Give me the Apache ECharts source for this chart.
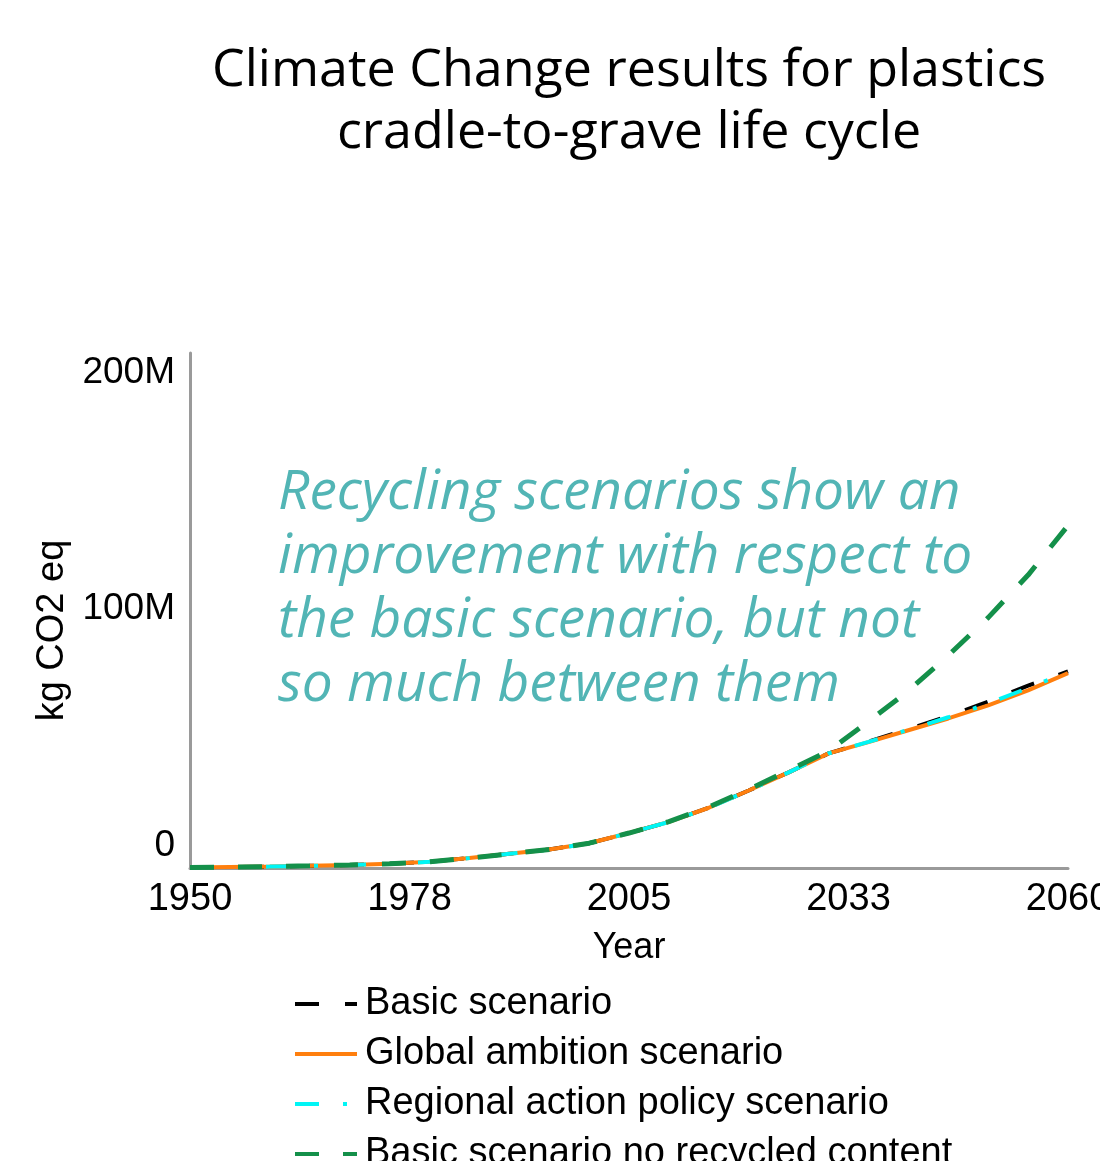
<!DOCTYPE html>
<html>
<head>
<meta charset="utf-8">
<script src="https://cdn.jsdelivr.net/npm/echarts@6/dist/echarts.min.js"></script>
<style>
  html, body { margin: 0; padding: 0; background: #fff; }
  #chart { width: 1100px; height: 1161px; }
</style>
</head>
<body>
<div id="chart"></div>
<script>
// years on the x axis (data every 5 years)
var years = [1950, 1955, 1960, 1965, 1970, 1975, 1980, 1985, 1990, 1995, 2000, 2005,
  2010, 2015, 2020, 2025, 2030, 2035, 2040, 2045, 2050, 2055, 2060];

// kg CO2 eq, in millions
var basic = [0.2, 0.4, 0.6, 0.9, 1.3, 1.8, 2.6, 4.2, 6.0, 7.8, 10.5, 14.8,
  19.5, 25.5, 32.8, 40.5, 48.5, 53.5, 58.8, 64.3, 70.4, 77.2, 83.2];
var globalAmbition = [0.2, 0.4, 0.6, 0.9, 1.3, 1.8, 2.6, 4.2, 6.0, 7.8, 10.5, 14.8,
  19.5, 25.5, 32.8, 40.5, 48.5, 53.3, 58.3, 63.3, 68.8, 75.2, 82.5];
var regionalAction = [0.2, 0.4, 0.6, 0.9, 1.3, 1.8, 2.6, 4.2, 6.0, 7.8, 10.5, 14.8,
  19.5, 25.5, 32.8, 40.5, 48.5, 53.4, 58.5, 63.8, 69.6, 76.2, 83.0];
var noRecycled = [0.2, 0.4, 0.6, 0.9, 1.3, 1.8, 2.6, 4.2, 6.0, 7.8, 10.5, 14.8,
  19.6, 25.8, 33.3, 41.3, 49.5, 62.0, 75.0, 90.0, 106.0, 124.0, 145.0];

var seriesNames = ['Basic scenario', 'Global ambition scenario',
  'Regional action policy scenario', 'Basic scenario no recycled content'];
var yTicks = ['0', '100M', '200M'];

var startYear = 1950;

function pts(vals) {
  return vals.map(function (v, i) { return [years[i] - startYear, v * 1e6]; });
}

var chart = echarts.init(document.getElementById('chart'));

var labelFont = 'Liberation Sans, Arial, sans-serif';

var option = {
  animation: false,
  graphic: [
    {
      type: 'text',
      style: {
        x: 629, y: 40,
        text: 'Climate Change results for plastics\ncradle-to-grave life cycle',
        textAlign: 'center',
        font: '52px "Open Sans", sans-serif',
        lineHeight: 62,
        fill: '#000'
      }
    },
    {
      type: 'text',
      style: {
        x: 278, y: 461,
        text: 'Recycling scenarios show an\nimprovement with respect to\nthe basic scenario, but not\nso much between them',
        textAlign: 'left',
        font: 'italic 55px "Open Sans", sans-serif',
        lineHeight: 64,
        fill: '#52b5b5'
      },
      z: 10
    }
  ],
  grid: { left: 190, right: 32, top: 353, bottom: 293, outerBoundsMode: 'none' },
  legend: {
    orient: 'vertical',
    left: 288,
    top: 979,
    height: 260,
    itemWidth: 62,
    itemHeight: 14,
    itemGap: 10,
    itemStyle: { opacity: 0 },
    lineStyle: { width: 4 },
    textStyle: { fontFamily: labelFont, fontSize: 38, color: '#000', lineHeight: 40, padding: [0, 0, 0, 3] },
    data: seriesNames
  },
  xAxis: {
    type: 'value',
    min: 0,
    max: 110,
    interval: 27.5,
    name: 'Year',
    nameLocation: 'middle',
    nameGap: 62,
    nameTextStyle: { fontFamily: labelFont, fontSize: 36, color: '#000' },
    axisLine: { lineStyle: { color: '#9a9a9a', width: 3 } },
    axisTick: { show: false },
    splitLine: { show: false },
    axisLabel: {
      fontFamily: labelFont, fontSize: 38, color: '#000', margin: 13,
      formatter: function (v) { return String(Math.round(v + startYear)); }
    }
  },
  yAxis: {
    type: 'value',
    min: 0,
    max: 218e6,
    interval: 1e8,
    name: 'kg CO2 eq',
    nameLocation: 'middle',
    nameGap: 104,
    nameRotate: 90,
    nameTextStyle: { fontFamily: labelFont, fontSize: 38, color: '#000', padding: [0, 40, 0, 0] },
    axisLine: { show: true, lineStyle: { color: '#9a9a9a', width: 3 } },
    axisTick: { show: false },
    splitLine: { show: false },
    axisLabel: {
      fontFamily: labelFont, fontSize: 37, color: '#000', margin: 15,
      verticalAlign: 'bottom',
      padding: [0, 0, 4, 0],
      formatter: function (v) {
        var k = Math.round(v / 1e8);
        return Math.abs(v - k * 1e8) < 1 ? yTicks[k] : '';
      }
    }
  },
  series: [
    {
      name: seriesNames[0], type: 'line', data: pts(basic), symbol: 'none',
      lineStyle: { color: '#000', width: 4, type: [24, 26] },
      itemStyle: { color: '#000' }
    },
    {
      name: seriesNames[1], type: 'line', data: pts(globalAmbition), symbol: 'none',
      lineStyle: { color: '#ff7f0e', width: 4, type: 'solid' },
      itemStyle: { color: '#ff7f0e' }
    },
    {
      name: seriesNames[2], type: 'line', data: pts(regionalAction), symbol: 'none',
      lineStyle: { color: '#00f5f5', width: 4, type: [24, 24, 4, 24] },
      itemStyle: { color: '#00f5f5' }
    },
    {
      name: seriesNames[3], type: 'line', data: pts(noRecycled), symbol: 'none',
      lineStyle: { color: '#14904a', width: 5, type: [24, 24] },
      itemStyle: { color: '#14904a' }
    }
  ]
};

chart.setOption(option);
</script>
</body>
</html>
